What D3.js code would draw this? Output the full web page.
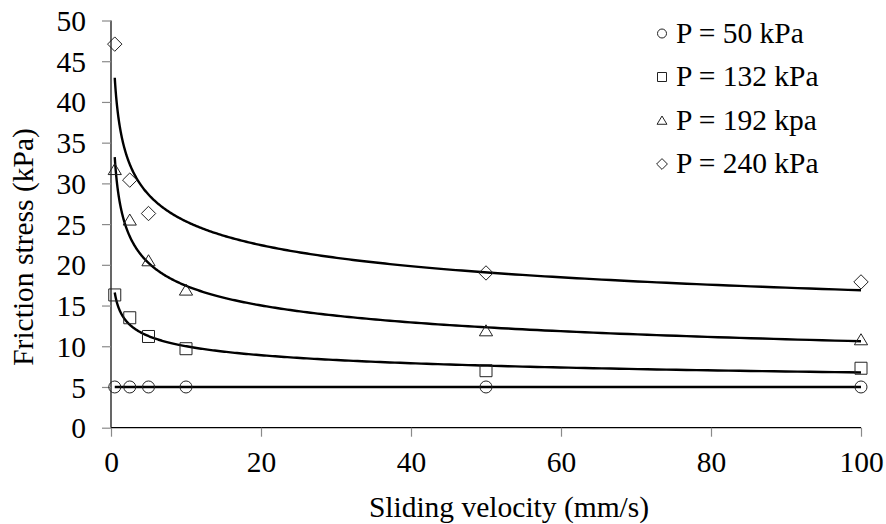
<!DOCTYPE html>
<html>
<head>
<meta charset="utf-8">
<script src="https://cdn.jsdelivr.net/npm/d3@7"></script>
<style>
  html, body { margin: 0; padding: 0; background: #fff; }
</style>
</head>
<body>
<svg id="chart" width="886" height="524"></svg>
<script>
// Sliding velocity (mm/s) at which friction was measured
const velocities = [0.5, 2.5, 5, 10, 50, 100];

// Friction stress (kPa) per normal pressure; null = no measurement
const stress50  = [5, 5, 5, 5, 5, 5];
const stress132 = [16.3, 13.5, 11.2, 9.7, 7.0, 7.3];
const stress192 = [31.7, 25.5, 20.5, 16.9, 11.9, 10.8];
const stress240 = [47.1, 30.4, 26.3, null, 19.0, 17.9];

const seriesLabels = ["P = 50 kPa", "P = 132 kPa", "P = 192 kpa", "P = 240 kPa"];
const seriesSymbols = ["circle", "square", "triangle", "diamond"];

const xTicks = [0, 20, 40, 60, 80, 100];
const yTicks = [0, 5, 10, 15, 20, 25, 30, 35, 40, 45, 50];

const allSeries = [stress50, stress132, stress192, stress240];

const svg = d3.select("#chart");
const x = d3.scaleLinear().domain([0, 100]).range([111, 861]);
const y = d3.scaleLinear().domain([0, 50]).range([427.7, 20.5]);

const FONT = "29.5px";
const SERIF = "'Liberation Serif'";

// Power-law trendline (y = a*x^b) fitted by least squares in log-log space
function powerFit(xs, ys) {
  const pts = xs.map((v, i) => [v, ys[i]]).filter(p => p[1] != null);
  const lx = pts.map(p => Math.log(p[0]));
  const ly = pts.map(p => Math.log(p[1]));
  const mx = d3.mean(lx), my = d3.mean(ly);
  const sxy = d3.sum(lx, (v, i) => (v - mx) * (ly[i] - my));
  const sxx = d3.sum(lx, v => (v - mx) * (v - mx));
  const b = sxx === 0 ? 0 : sxy / sxx;
  const a = Math.exp(my - b * mx);
  return v => a * Math.pow(v, b);
}

// Axes
const xAxis = d3.axisBottom(x).tickValues(xTicks).tickSize(9).tickPadding(13);
const yAxis = d3.axisLeft(y).tickValues(yTicks).tickSize(9).tickPadding(16);

const gx = svg.append("g").attr("transform", `translate(0,${y(0)})`).call(xAxis);
const gy = svg.append("g").attr("transform", `translate(${x(0)},0)`).call(yAxis);

[gx, gy].forEach(g => {
  g.attr("font-family", null).attr("font-size", null);
  g.select(".domain").attr("stroke", "#000").attr("stroke-width", 1.2);
  g.selectAll(".tick line").attr("stroke", "#8a8a8a").attr("stroke-width", 1.2);
  g.selectAll(".tick text")
    .style("font-family", SERIF)
    .style("font-size", FONT)
    .attr("fill", "#000");
});
// axis lines without the outer tick caps
gx.select(".domain").attr("d", `M${x(0)},0H${x(100)}`);
gy.select(".domain").attr("d", `M0,${y(0)}V${y(50)}`);
gx.selectAll(".tick text").attr("dy", "0.75em");
gy.selectAll(".tick text").attr("dy", "0.34em");

// Axis titles
svg.append("text")
  .attr("x", 509).attr("y", 517)
  .attr("text-anchor", "middle")
  .style("font-family", SERIF).style("font-size", FONT)
  .text("Sliding velocity (mm/s)");

svg.append("text")
  .attr("transform", "translate(33,247) rotate(-90)")
  .attr("text-anchor", "middle")
  .style("font-family", SERIF).style("font-size", FONT)
  .text("Friction stress (kPa)");

// Trendlines
const samples = d3.range(0, 301).map(i => 0.5 * Math.pow(200, i / 300));
const line = d3.line().x(d => x(d[0])).y(d => y(d[1]));

allSeries.forEach(vals => {
  const f = powerFit(velocities, vals);
  svg.append("path")
    .attr("d", line(samples.map(v => [v, f(v)])))
    .attr("fill", "none")
    .attr("stroke", "#000")
    .attr("stroke-width", 2.4);
});

// Marker shapes (outline only)
function markerPath(kind, s) {
  switch (kind) {
    case "circle": return d3.symbol(d3.symbolCircle, Math.PI * s * s / 4)();
    case "square": return `M${-s/2},${-s/2}h${s}v${s}h${-s}Z`;
    case "triangle": return `M0,${-s*0.5}L${s*0.55},${s*0.42}L${-s*0.55},${s*0.42}Z`;
    case "diamond": return `M0,${-s*0.6}L${s*0.6},0L0,${s*0.6}L${-s*0.6},0Z`;
  }
}

allSeries.forEach((vals, si) => {
  const pts = velocities.map((v, i) => [v, vals[i]]).filter(p => p[1] != null);
  svg.append("g").selectAll("path")
    .data(pts)
    .join("path")
    .attr("transform", d => `translate(${x(d[0])},${y(d[1])})`)
    .attr("d", markerPath(seriesSymbols[si], 12))
    .attr("fill", "none")
    .attr("stroke", "#222")
    .attr("stroke-width", 1);
});

// Legend
const legend = svg.append("g");
seriesLabels.forEach((lab, i) => {
  const cy = 33.5 + i * 43.5;
  legend.append("path")
    .attr("transform", `translate(662,${cy})`)
    .attr("d", markerPath(seriesSymbols[i], 9))
    .attr("fill", "none").attr("stroke", "#222").attr("stroke-width", 1);
  legend.append("text")
    .attr("x", 676).attr("y", cy + 9)
    .style("font-family", SERIF).style("font-size", FONT)
    .text(lab);
});
</script>
</body>
</html>
